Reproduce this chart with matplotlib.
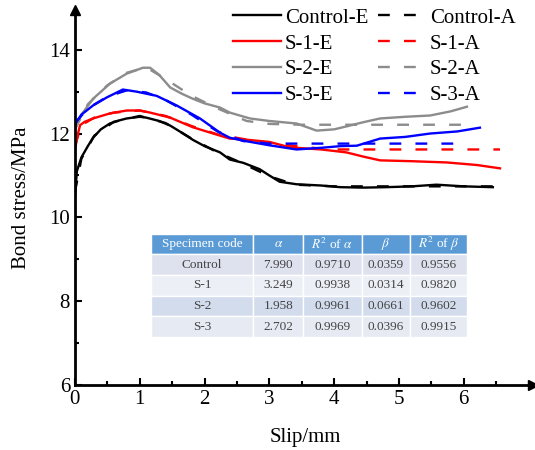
import matplotlib.pyplot as plt
from matplotlib.ticker import MultipleLocator

plt.rcParams["font.family"] = ["Liberation Serif", "DejaVu Serif"]
plt.rcParams["mathtext.fontset"] = "stix"

ctrl_e_x = [0, 0.03, 0.1, 0.2, 0.28, 0.4, 0.54, 0.7, 0.8, 1.0, 1.1, 1.3, 1.47, 1.65, 1.82, 2.0,
            2.24, 2.39, 2.6, 2.85, 3.0, 3.16, 3.42, 3.8, 4.1, 4.45, 4.8, 5.2, 5.58, 6.0, 6.45]
ctrl_e_y = [10.45, 11.1, 11.43, 11.7, 11.9, 12.1, 12.24, 12.32, 12.36, 12.4, 12.38, 12.3, 12.19, 12.02,
            11.85, 11.7, 11.55, 11.38, 11.3, 11.15, 11.0, 10.85, 10.79, 10.76, 10.72, 10.71, 10.72,
            10.74, 10.78, 10.74, 10.72]
ctrl_a_x = [0, 0.1, 0.3, 0.6, 1.0, 1.4, 1.8, 2.2, 2.6, 3.0, 3.4, 4.0, 6.45]
ctrl_a_y = [10.6, 11.4, 11.95, 12.28, 12.42, 12.25, 11.88, 11.55, 11.28, 10.98, 10.78, 10.74, 10.74]

s1_e_x = [0, 0.04, 0.08, 0.15, 0.28, 0.54, 0.8, 1.0, 1.16, 1.47, 1.82, 2.24, 2.39, 2.6, 3.0, 3.32,
          3.8, 4.19, 4.45, 4.71, 5.2, 5.74, 6.2, 6.56]
s1_e_y = [11.6, 11.95, 12.2, 12.28, 12.36, 12.48, 12.55, 12.55, 12.5, 12.38, 12.15, 11.95, 11.88,
          11.86, 11.8, 11.67, 11.62, 11.55, 11.45, 11.36, 11.34, 11.31, 11.25, 11.17]
s1_a_x = [0, 0.1, 0.3, 0.6, 1.0, 1.4, 1.8, 2.2, 2.6, 3.0, 3.5, 4.0, 6.56]
s1_a_y = [11.7, 12.2, 12.38, 12.5, 12.55, 12.42, 12.18, 11.98, 11.87, 11.78, 11.68, 11.62, 11.62]

s2_e_x = [0, 0.1, 0.28, 0.54, 0.8, 1.05, 1.16, 1.3, 1.47, 1.65, 1.82, 2.0, 2.24, 2.39, 2.7, 3.0,
          3.42, 3.73, 4.0, 4.19, 4.45, 4.71, 5.1, 5.48, 5.8, 6.05]
s2_e_y = [12.1, 12.45, 12.83, 13.19, 13.43, 13.57, 13.57, 13.4, 13.1, 12.95, 12.83, 12.72, 12.62,
          12.5, 12.36, 12.3, 12.24, 12.07, 12.1, 12.17, 12.27, 12.36, 12.4, 12.43, 12.53, 12.64]
s2_a_x = [0, 0.2, 0.5, 0.8, 1.1, 1.4, 1.8, 2.2, 2.65, 3.0, 3.5, 6.05]
s2_a_y = [12.1, 12.7, 13.15, 13.45, 13.58, 13.3, 12.9, 12.6, 12.3, 12.23, 12.21, 12.21]

s3_e_x = [0, 0.1, 0.28, 0.49, 0.74, 0.95, 1.26, 1.57, 1.93, 2.24, 2.39, 2.6, 3.0, 3.42, 3.8, 4.1,
          4.35, 4.71, 5.1, 5.48, 5.9, 6.25]
s3_e_y = [12.22, 12.45, 12.67, 12.86, 13.05, 13.0, 12.9, 12.67, 12.36, 12.02, 11.9, 11.83, 11.72,
          11.62, 11.66, 11.7, 11.71, 11.88, 11.92, 12.0, 12.05, 12.14]
s3_a_x = [0, 0.2, 0.5, 0.8, 1.1, 1.4, 1.8, 2.2, 2.6, 3.0, 6.0]
s3_a_y = [12.25, 12.6, 12.88, 13.03, 12.98, 12.8, 12.45, 12.05, 11.82, 11.76, 11.76]

# fitting parameter table
tab_header = ["Specimen code", r"$\alpha$", r"$R^2$ of $\alpha$", r"$\beta$", r"$R^2$ of $\beta$"]
tab_rows = [
    ["Control", "7.990", "0.9710", "0.0359", "0.9556"],
    ["S-1", "3.249", "0.9938", "0.0314", "0.9820"],
    ["S-2", "1.958", "0.9961", "0.0661", "0.9602"],
    ["S-3", "2.702", "0.9969", "0.0396", "0.9915"],
]

fig = plt.figure(figsize=(5.35, 4.5), dpi=100)
ax = fig.add_axes([0.14, 0.1444, 0.86, 0.8336])

lw = 1.7
dash = (0, (5, 6))
series = [
    ("Control", ctrl_e_x, ctrl_e_y, ctrl_a_x, ctrl_a_y, "black"),
    ("S-1", s1_e_x, s1_e_y, s1_a_x, s1_a_y, "#ff0000"),
    ("S-2", s2_e_x, s2_e_y, s2_a_x, s2_a_y, "#8c8c8c"),
    ("S-3", s3_e_x, s3_e_y, s3_a_x, s3_a_y, "#0000ff"),
]
e_handles, a_handles = [], []
for name, ex, ey, axx, ayy, c in series:
    h1, = ax.plot(ex, ey, color=c, lw=lw, label=name + "-E")
    h2, = ax.plot(axx, ayy, color=c, lw=lw, linestyle=dash, label=name + "-A")
    e_handles.append(h1)
    a_handles.append(h2)

ax.set_xlim(0, 7.1)
ax.set_ylim(6, 14.95)
for s in ["top", "right"]:
    ax.spines[s].set_visible(False)
for s in ["left", "bottom"]:
    ax.spines[s].set_linewidth(2)
ax.plot(0.995, 0, ">k", ms=7, transform=ax.transAxes, clip_on=False)
ax.plot(0, 1, "^k", ms=7, transform=ax.transAxes, clip_on=False)

ax.xaxis.set_major_locator(MultipleLocator(1))
ax.xaxis.set_minor_locator(MultipleLocator(0.5))
ax.yaxis.set_major_locator(MultipleLocator(2))
ax.yaxis.set_minor_locator(MultipleLocator(1))
ax.tick_params(which="both", direction="in", width=1.5, labelsize=15)
ax.tick_params(which="major", length=5)
ax.tick_params(which="minor", length=3)
ax.set_xticks(range(0, 7))
ax.set_xlabel("Slip/mm", fontsize=15, labelpad=14)
ax.set_ylabel("Bond stress/MPa", fontsize=15, labelpad=13)

fig.legend(e_handles + a_handles, [h.get_label() for h in e_handles + a_handles],
           ncol=2, frameon=False, fontsize=15, loc="upper left",
           bbox_to_anchor=(0.4355, 0.982), handlelength=2.3, handletextpad=0.2,
           columnspacing=0.45, labelspacing=0.3, borderpad=0.0, borderaxespad=0.0)

tab = ax.table(cellText=tab_rows, colLabels=tab_header, cellLoc="center",
               bbox=[0.165, 0.128, 0.687, 0.275],
               colWidths=[102, 50, 58, 48, 57])
tab.auto_set_font_size(False)
row_cols = ["#dde2ee", "#eceff6", "#d2dcec", "#e6eaf3"]
for (r, c), cell in tab.get_celld().items():
    cell.set_edgecolor("white")
    cell.set_linewidth(1.0)
    cell.get_text().set_fontsize(9.5)
    if r == 0:
        cell.set_facecolor("#5b9bd5")
        cell.get_text().set_color("white")
    else:
        cell.set_facecolor(row_cols[r - 1])
        cell.get_text().set_color("#444444")

fig.savefig("out.png", dpi=100)
